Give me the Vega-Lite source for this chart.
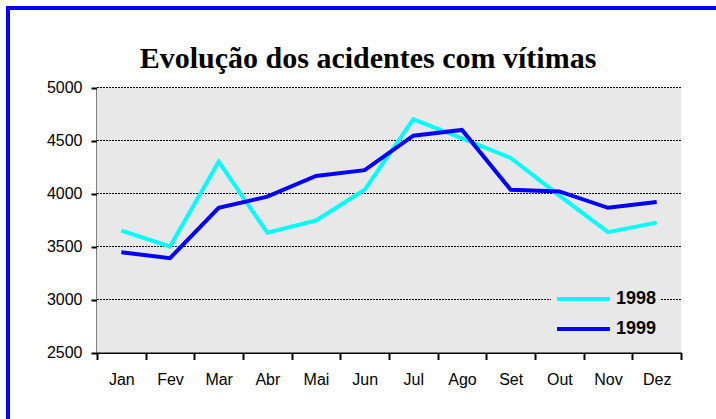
{
  "$schema": "https://vega.github.io/schema/vega-lite/v6.json",
  "width": 714,
  "height": 420,
  "autosize": {"type": "none"},
  "padding": {"left": 8, "top": 8, "right": -6, "bottom": -9},
  "background": "white",
  "config": {
    "view": {"stroke": "#0000ff", "strokeWidth": 4, "fill": "white"},
    "font": "Liberation Sans"
  },
  "title": {
    "text": "Evolução dos acidentes com vítimas",
    "font": "Liberation Serif",
    "fontSize": 30,
    "fontWeight": "bold",
    "color": "black",
    "anchor": "middle",
    "baseline": "alphabetic",
    "offset": -90,
    "dx": 3
  },
  "datasets": {
    "acid": [
      {"mes": "Jan", "n": 1, "ano": "1998", "vitimas": 3650},
      {"mes": "Fev", "n": 2, "ano": "1998", "vitimas": 3500},
      {"mes": "Mar", "n": 3, "ano": "1998", "vitimas": 4300},
      {"mes": "Abr", "n": 4, "ano": "1998", "vitimas": 3630},
      {"mes": "Mai", "n": 5, "ano": "1998", "vitimas": 3745},
      {"mes": "Jun", "n": 6, "ano": "1998", "vitimas": 4035},
      {"mes": "Jul", "n": 7, "ano": "1998", "vitimas": 4700},
      {"mes": "Ago", "n": 8, "ano": "1998", "vitimas": 4520},
      {"mes": "Set", "n": 9, "ano": "1998", "vitimas": 4335},
      {"mes": "Out", "n": 10, "ano": "1998", "vitimas": 3980},
      {"mes": "Nov", "n": 11, "ano": "1998", "vitimas": 3635},
      {"mes": "Dez", "n": 12, "ano": "1998", "vitimas": 3725},
      {"mes": "Jan", "n": 1, "ano": "1999", "vitimas": 3445},
      {"mes": "Fev", "n": 2, "ano": "1999", "vitimas": 3390},
      {"mes": "Mar", "n": 3, "ano": "1999", "vitimas": 3865},
      {"mes": "Abr", "n": 4, "ano": "1999", "vitimas": 3970},
      {"mes": "Mai", "n": 5, "ano": "1999", "vitimas": 4165},
      {"mes": "Jun", "n": 6, "ano": "1999", "vitimas": 4220},
      {"mes": "Jul", "n": 7, "ano": "1999", "vitimas": 4545},
      {"mes": "Ago", "n": 8, "ano": "1999", "vitimas": 4600},
      {"mes": "Set", "n": 9, "ano": "1999", "vitimas": 4035},
      {"mes": "Out", "n": 10, "ano": "1999", "vitimas": 4020},
      {"mes": "Nov", "n": 11, "ano": "1999", "vitimas": 3865},
      {"mes": "Dez", "n": 12, "ano": "1999", "vitimas": 3920}
    ],
    "grade": [
      {"valor": 3000, "de": 0.5, "ate": 12.5},
      {"valor": 3500, "de": 0.5, "ate": 12.5},
      {"valor": 4000, "de": 0.5, "ate": 12.5},
      {"valor": 4500, "de": 0.5, "ate": 12.5},
      {"valor": 5000, "de": 0.5, "ate": 12.5}
    ],
    "fundo": [
      {"de": 0.5, "ate": 12.5, "baixo": 2500, "alto": 5000}
    ]
  },
  "layer": [
    {
      "data": {"name": "fundo"},
      "mark": {"type": "rect", "fill": "#e8e8e8"},
      "encoding": {
        "x": {"field": "de", "type": "quantitative", "title": null,
              "scale": {"domain": [0.5, 12.5], "range": [89, 673], "nice": false, "zero": false},
              "axis": {"title": null, "orient": "bottom", "offset": -75.5,
                       "values": [0.5, 1.5, 2.5, 3.5, 4.5, 5.5, 6.5, 7.5, 8.5, 9.5, 10.5, 11.5, 12.5],
                       "labelExpr": "['Jan','Fev','Mar','Abr','Mai','Jun','Jul','Ago','Set','Out','Nov','Dez',''][floor(datum.value)]",
                       "labelOffset": 24.33, "labelFlush": false, "labelOverlap": false, "labelBound": false,
                       "domainColor": "black", "domainWidth": 2, "tickColor": "black", "tickWidth": 2, "tickSize": 7,
                       "labelFont": "Liberation Sans", "labelFontSize": 16, "labelColor": "black", "labelPadding": 12,
                       "labelAngle": 0, "grid": false}},
        "x2": {"field": "ate"},
        "y": {"field": "baixo", "type": "quantitative", "title": null,
              "scale": {"domain": [2500, 5000], "range": [344.5, 79.5], "nice": false, "zero": false},
              "axis": {"title": null, "orient": "left", "offset": -89, "values": [2500, 3000, 3500, 4000, 4500, 5000],
                       "format": "d",
                       "domainColor": "black", "domainWidth": 2, "tickColor": "black", "tickWidth": 2, "tickSize": 6,
                       "labelFont": "Liberation Sans", "labelFontSize": 16, "labelColor": "black", "labelPadding": 9,
                       "labelFlush": false, "labelOverlap": false, "grid": false}},
        "y2": {"field": "alto"}
      }
    },
    {
      "data": {"name": "grade"},
      "mark": {"type": "rule", "color": "black", "strokeWidth": 1, "strokeDash": [2, 1]},
      "encoding": {
        "x": {"field": "de", "type": "quantitative", "title": null},
        "x2": {"field": "ate"},
        "y": {"field": "valor", "type": "quantitative", "title": null}
      }
    },
    {
      "data": {"name": "acid"},
      "mark": {"type": "line", "strokeWidth": 4},
      "encoding": {
        "x": {"field": "n", "type": "quantitative", "title": null},
        "y": {"field": "vitimas", "type": "quantitative", "title": null},
        "color": {"field": "ano", "type": "nominal",
                  "scale": {"domain": ["1998", "1999"], "range": ["#00ffff", "#0000ff"]},
                  "legend": {"title": null, "orient": "none", "legendX": 543, "legendY": 274,
                             "symbolType": "stroke", "symbolStrokeWidth": 4, "symbolSize": 2800,
                             "clipHeight": 26,
                             "labelFont": "Liberation Sans", "labelFontWeight": "bold", "labelFontSize": 18,
                             "labelColor": "black", "labelOffset": 4, "rowPadding": 4,
                             "fillColor": "#e8e8e8", "padding": 4}}
      }
    }
  ]
}
